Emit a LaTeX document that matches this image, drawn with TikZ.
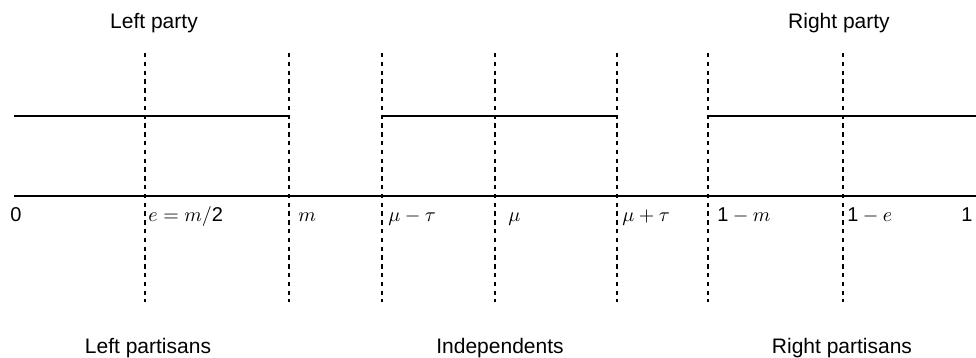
\documentclass[tikz,border=0pt]{standalone}
\usepackage{fontspec}
\setmainfont{Liberation Sans}
\usetikzlibrary{positioning}
\tikzset{
  lvl/.style={line width=1.3pt},
  cut/.style={line width=1.2pt, dash pattern=on 2.2pt off 2.2pt},
  grp/.style={font=\fontsize{10.5}{12}\selectfont, anchor=base, inner sep=0pt},
  tick/.style={font=\fontsize{10}{12}\selectfont, anchor=base west, inner sep=0pt},
}
\begin{document}
\begin{tikzpicture}[x=0.5pt,y=-0.5pt]
  \useasboundingbox (0,0) rectangle (976,358);
  % axis and party levels
  \draw[lvl] (14,196) -- (976,196);
  \draw[lvl] (14,116) -- (289,116) -- (289,119);
  \draw[lvl] (382,119) -- (382,116) -- (617,116) -- (617,118);
  \draw[lvl] (708,119) -- (708,116) -- (976,116);
  % cut points
  \foreach \n/\x/\dx/\t in {e/145/3/{$e = m/$2}, m/289/9/{$m$}, mt/382/6/{$\mu - \tau$},
      mu/495/13/{$\mu$}, mp/617/5/{$\mu + \tau$}, om/708/9/{1${}- m$}, oe/843/4/{1${}- e$}}
    { \coordinate (c\n) at (\x,53);
      \draw[cut] (c\n) -- (\x,302);
      \node[tick] (t\n) at (\x+\dx,222) {\t}; }
  \node[tick] (zero) at (10,222) {0};
  \node[tick, anchor=base east] (one) at (973,222) {1};
  % groups
  \node[grp] (lparty) at (154,29) {Left party};
  \node[grp] (rparty) at (839,29) {Right party};
  \node[grp] (lpart) at (148,353) {Left partisans};
  \node[grp] (indep) at (500,353) {Independents};
  \node[grp] (rpart) at (842,353) {Right partisans};
\end{tikzpicture}
\end{document}
